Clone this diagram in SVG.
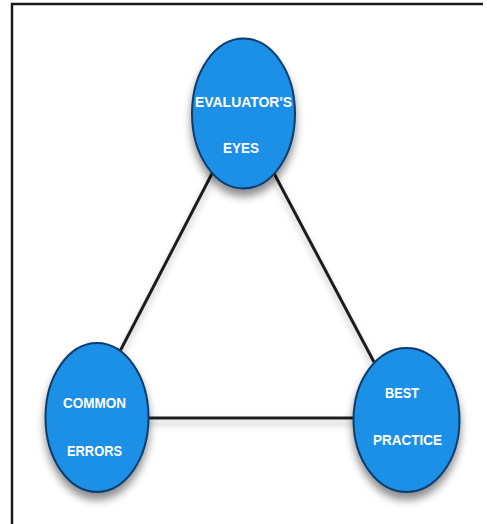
<svg xmlns="http://www.w3.org/2000/svg" width="487" height="524" viewBox="0 0 487 524">
<style>
.node{fill:#1a8fe6;stroke:#0c3d6c;stroke-width:2;filter:url(#sh)}
.lbl{font-family:"Liberation Sans",Arial,sans-serif;font-weight:bold;font-size:15px;fill:#ffffff;text-anchor:middle}
.edge{stroke:#1e1e1e;stroke-width:3;fill:none;filter:url(#lsh)}
</style>
<defs>
<filter id="sh" x="-30%" y="-30%" width="160%" height="170%">
<feDropShadow dx="0" dy="7" stdDeviation="4" flood-color="#000" flood-opacity="0.45"/>
</filter>
<filter id="lsh" filterUnits="userSpaceOnUse" x="0" y="0" width="487" height="524">
<feDropShadow dx="0" dy="5" stdDeviation="3" flood-color="#000" flood-opacity="0.25"/>
</filter>
</defs>
<rect width="487" height="524" fill="#ffffff"/>
<path d="M12,524 V4 H483" fill="none" stroke="#1a1a1a" stroke-width="2.5"/>
<g id="connectors">
<line class="edge" x1="218" y1="162" x2="117" y2="357"/>
<line class="edge" x1="268" y1="162" x2="374" y2="362"/>
<line class="edge" x1="140" y1="418" x2="360" y2="418"/>
</g>
<g id="node-evaluators-eyes">
<ellipse class="node" cx="243.5" cy="113.5" rx="51.5" ry="75"/>
<text class="lbl" x="243.5" y="107" textLength="97" lengthAdjust="spacingAndGlyphs">EVALUATOR'S</text>
<text class="lbl" x="241" y="153" textLength="36" lengthAdjust="spacingAndGlyphs">EYES</text>
</g>
<g id="node-common-errors">
<ellipse class="node" cx="97" cy="417.5" rx="51.5" ry="74.5"/>
<text class="lbl" x="94.5" y="408" textLength="63" lengthAdjust="spacingAndGlyphs">COMMON</text>
<text class="lbl" x="94.5" y="456" textLength="55" lengthAdjust="spacingAndGlyphs">ERRORS</text>
</g>
<g id="node-best-practice">
<ellipse class="node" cx="406.5" cy="420" rx="53" ry="72"/>
<text class="lbl" x="402" y="398" textLength="34" lengthAdjust="spacingAndGlyphs">BEST</text>
<text class="lbl" x="407.5" y="445" textLength="69" lengthAdjust="spacingAndGlyphs">PRACTICE</text>
</g>
</svg>
